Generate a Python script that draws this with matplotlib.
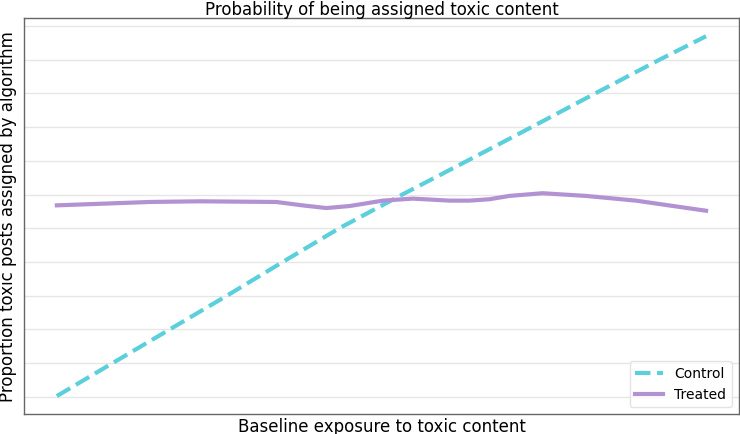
import matplotlib
matplotlib.use("Agg")
import matplotlib.pyplot as plt
from matplotlib.ticker import MultipleLocator

# Baseline exposure (normalised 0..1) and probability values
control_x = [0.000, 0.086, 0.174, 0.262, 0.348, 0.435, 0.532, 0.632, 0.731, 0.829, 0.928, 1.000]
control_y = [0.051, 0.100, 0.150, 0.200, 0.250, 0.300, 0.350, 0.400, 0.450, 0.500, 0.550, 0.585]

treated_x = [0.000, 0.143, 0.220, 0.338, 0.378, 0.415, 0.451, 0.502, 0.548, 0.605,
             0.635, 0.666, 0.697, 0.748, 0.815, 0.892, 1.000]
treated_y = [0.334, 0.339, 0.340, 0.339, 0.334, 0.330, 0.333, 0.341, 0.344, 0.341,
             0.341, 0.343, 0.348, 0.352, 0.348, 0.341, 0.326]

labels = ["Control", "Treated"]
colors = ["#5bcfdc", "#b392d3"]

fig, ax = plt.subplots(figsize=(7.4, 4.34), dpi=100)
ax.plot(control_x, control_y, linestyle="--", color=colors[0], lw=3, label=labels[0])
ax.plot(treated_x, treated_y, linestyle="-", color=colors[1], lw=3, label=labels[1])

ax.yaxis.set_major_locator(MultipleLocator(0.05))
ax.grid(axis="y", color="#e6e6e6", lw=1)
ax.grid(axis="x", visible=False)
ax.set_axisbelow(True)
ax.tick_params(left=False, bottom=False, labelleft=False, labelbottom=False)
for s in ax.spines.values():
    s.set_color("#666666")
    s.set_linewidth(1)

ax.set_title("Probability of being assigned toxic content", fontsize=12, pad=2)
ax.set_xlabel("Baseline exposure to toxic content", fontsize=12, labelpad=3)
ax.set_ylabel("Proportion toxic posts assigned by algorithm", fontsize=12, labelpad=5)
leg = ax.legend(loc="lower right", fontsize=10, frameon=True)
leg.get_frame().set_edgecolor("#dddddd")

fig.subplots_adjust(left=0.033, right=0.998, top=0.958, bottom=0.046)
fig.savefig("out.png", dpi=100)
